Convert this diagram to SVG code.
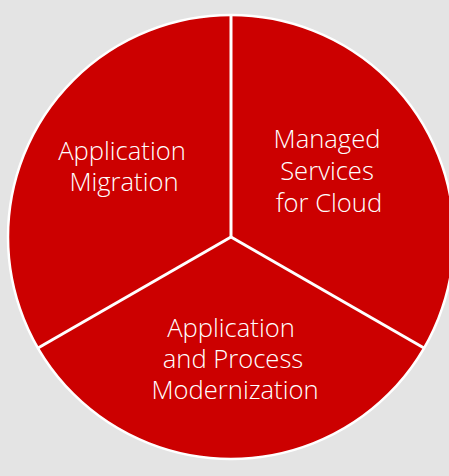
<svg xmlns="http://www.w3.org/2000/svg" width="449" height="476" viewBox="0 0 449 476">
<style>
.bg{fill:#e4e4e4}
.pie{fill:#cc0000;stroke:#ffffff;stroke-width:2.5}
.div{stroke:#ffffff;stroke-width:3;fill:none}
.lbl{font-family:"Open Sans","Liberation Sans",sans-serif;font-weight:300;font-size:25.6px;fill:#ffffff;text-anchor:middle}
</style>
<rect class="bg" x="0" y="0" width="449" height="476"/>
<g id="pie">
<ellipse class="pie" cx="231" cy="237" rx="223" ry="222"/>
</g>
<g id="connectors">
<line class="div" x1="231" y1="237" x2="231" y2="14"/>
<line class="div" x1="231" y1="237" x2="38" y2="348"/>
<line class="div" x1="231" y1="237" x2="424" y2="348"/>
</g>
<g id="node-migration">
<text class="lbl" x="122" y="160">Application</text>
<text class="lbl" x="124" y="191">Migration</text>
</g>
<g id="node-managed">
<text class="lbl" x="327" y="148">Managed</text>
<text class="lbl" x="327" y="180">Services</text>
<text class="lbl" x="329" y="212">for Cloud</text>
</g>
<g id="node-modernization">
<text class="lbl" x="231" y="337">Application</text>
<text class="lbl" x="233" y="368">and Process</text>
<text class="lbl" x="235" y="399">Modernization</text>
</g>
</svg>
